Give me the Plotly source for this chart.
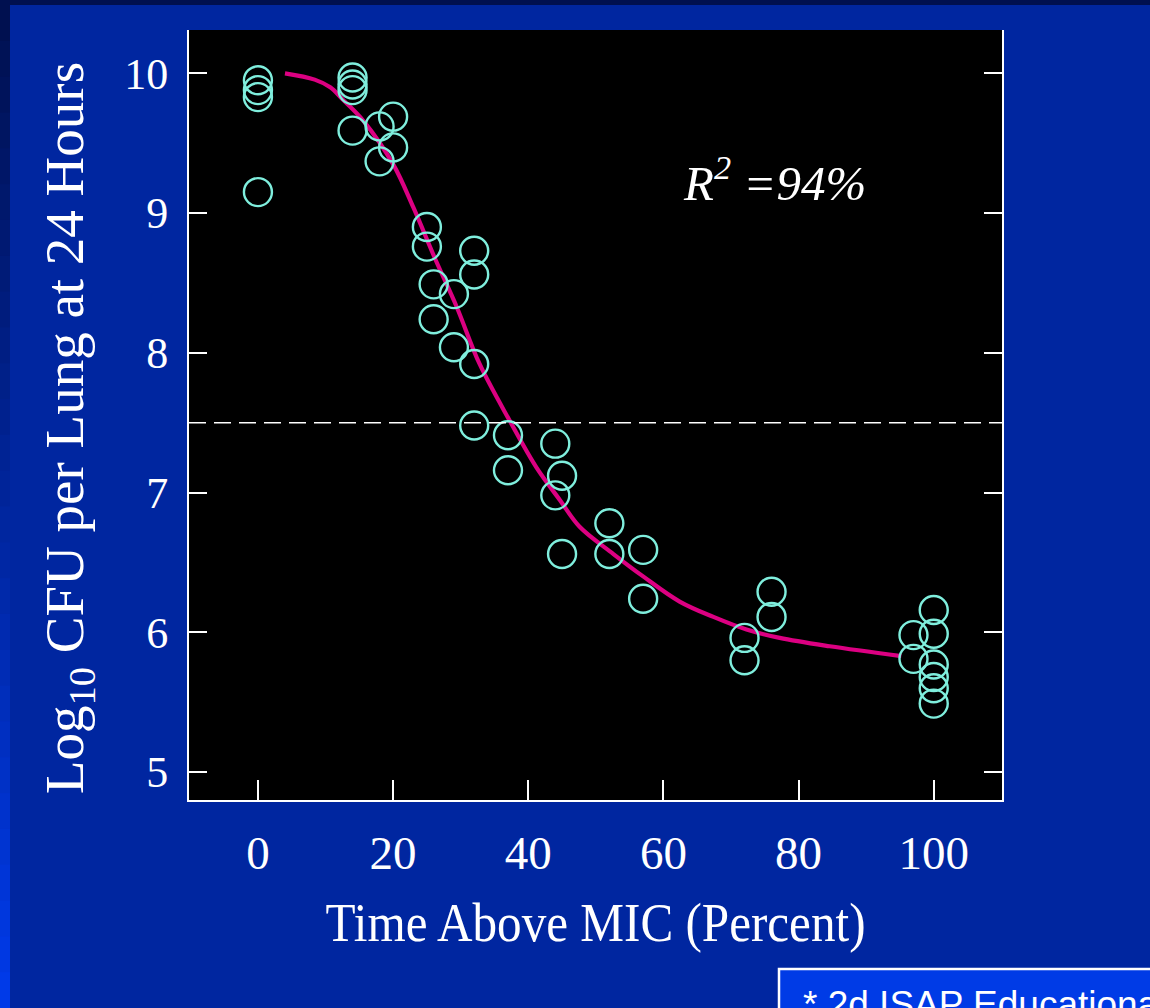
import plotly.graph_objects as go

# Observed lung burden vs. percent of dosing interval above MIC
time_above_mic = [0, 0, 0, 0,
                  14, 14, 14, 14,
                  18, 18, 20, 20,
                  25, 25, 26, 26, 29, 29, 32, 32, 32, 32,
                  37, 37, 44, 44, 45, 45,
                  52, 52, 57, 57,
                  72, 72, 76, 76,
                  97, 97, 100, 100, 100, 100, 100, 100]
log_cfu = [9.95, 9.88, 9.83, 9.15,
           9.97, 9.92, 9.88, 9.59,
           9.62, 9.37, 9.69, 9.47,
           8.90, 8.76, 8.49, 8.24, 8.42, 8.04, 8.73, 8.56, 7.92, 7.48,
           7.41, 7.16, 7.35, 6.98, 7.12, 6.56,
           6.78, 6.56, 6.59, 6.24,
           5.96, 5.80, 6.29, 6.11,
           5.98, 5.81, 6.16, 5.99, 5.77, 5.68, 5.60, 5.49]

# Fitted model curve
fit_x = [4.0, 8.4, 10.7, 12.6, 15.6, 20.0, 23.0, 26.2, 29.4, 32.8, 37.3,
         41.2, 44.7, 47.6, 52.6, 57.0, 62.4, 67.4, 72.3, 77.2, 84.6, 95.2]
fit_y = [10.00, 9.955, 9.90, 9.81, 9.66, 9.35, 9.04, 8.675, 8.33, 7.92, 7.51,
         7.18, 6.945, 6.755, 6.56, 6.40, 6.22, 6.11, 6.02, 5.96, 5.90, 5.83]

stasis_level = 7.5
x_ticks = [0, 20, 40, 60, 80, 100]
y_ticks = [5, 6, 7, 8, 9, 10]
x_title = "Time Above MIC (Percent)"
y_title = "Log<sub>10</sub> CFU per Lung at 24 Hours"
r_squared_text = "<i>R<sup>2</sup> =94%</i>"
footnote_text = "* 2d ISAP Educational Workshop"

W, H = 1150, 1008
L, R, T, B = 189, 1002, 30, 800   # plot area edges in pixels

def px_x(p):
    return (p - L) / (R - L)

def px_y(p):
    return (B - p) / (B - T)

SERIF = "Liberation Serif"
WHITE = "#FFFFFF"
BG = "#0026A0"

fig = go.Figure()

fig.add_trace(go.Scatter(
    x=fit_x, y=fit_y, mode="lines",
    line=dict(color="#DC0082", width=4.2, shape="spline", smoothing=1.0),
    hoverinfo="skip", showlegend=False,
))

fig.add_trace(go.Scatter(
    x=time_above_mic, y=log_cfu, mode="markers",
    marker=dict(symbol="circle-open", size=28, color="#7FEEDD",
                line=dict(width=2.4, color="#7FEEDD")),
    showlegend=False,
))

shapes = []
# dashed reference level
shapes.append(dict(type="line", xref="paper", yref="y", x0=0, x1=1,
                   y0=stasis_level, y1=stasis_level,
                   line=dict(color=WHITE, width=1.5, dash="17px,8px"),
                   layer="above"))

# slide frame: dark top band and left strip shading to bright blue
shapes.append(dict(type="rect", xref="paper", yref="paper",
                   x0=px_x(0), x1=px_x(W), y0=px_y(0), y1=px_y(5),
                   fillcolor="#001050", line=dict(width=0), layer="below"))
n = 28
c0 = (0x00, 0x10, 0x50)
c1 = (0x00, 0x3A, 0xE8)
for i in range(n):
    f = i / (n - 1)
    col = "rgb(%d,%d,%d)" % tuple(round(a + (b - a) * f) for a, b in zip(c0, c1))
    y_top = 5 + (H - 5) * i / n
    y_bot = 5 + (H - 5) * (i + 1) / n
    shapes.append(dict(type="rect", xref="paper", yref="paper",
                       x0=px_x(0), x1=px_x(10), y0=px_y(y_bot + 1), y1=px_y(y_top),
                       fillcolor=col, line=dict(width=0), layer="below"))

# footnote box
shapes.append(dict(type="rect", xref="paper", yref="paper",
                   x0=px_x(779), x1=px_x(1170), y0=px_y(1030), y1=px_y(969),
                   fillcolor="#003BE6", line=dict(color=WHITE, width=2.5),
                   layer="above"))

fig.update_layout(
    width=W, height=H,
    margin=dict(l=L, r=W - R, t=T, b=H - B, pad=0),
    paper_bgcolor=BG, plot_bgcolor="#000000",
    font=dict(family=SERIF, color=WHITE),
    shapes=shapes,
    showlegend=False,
    annotations=[
        dict(text=r_squared_text, xref="x", yref="y", x=76.5, y=9.24,
             showarrow=False, font=dict(family=SERIF, size=49, color=WHITE),
             xanchor="center", yanchor="middle"),
        dict(text=y_title, xref="paper", yref="paper",
             x=px_x(68), y=px_y(428), xanchor="center", yanchor="middle",
             textangle=-90, showarrow=False,
             font=dict(family=SERIF, size=55, color=WHITE)),
        dict(text=footnote_text, xref="paper", yref="paper",
             x=px_x(801), y=px_y(982), xanchor="left", yanchor="top",
             showarrow=False,
             font=dict(family="Liberation Sans", size=37, color=WHITE)),
    ],
)

fig.update_xaxes(
    range=[-10.2, 110.1], tickvals=x_ticks, ticktext=[str(v) for v in x_ticks],
    showgrid=False, zeroline=False,
    showline=True, linecolor=WHITE, linewidth=2, mirror=False,
    ticks="inside", ticklen=20, tickwidth=2, tickcolor=WHITE,
    tickfont=dict(family=SERIF, size=47, color=WHITE),
    ticklabelstandoff=11,
    title=dict(text=x_title,
               font=dict(family=SERIF, size=55, color=WHITE), standoff=24),
)

fig.update_yaxes(
    range=[4.80, 10.31], tickvals=y_ticks, ticktext=[str(v) for v in y_ticks],
    showgrid=False, zeroline=False,
    showline=True, linecolor=WHITE, linewidth=2, mirror="ticks",
    ticks="inside", ticklen=18, tickwidth=2, tickcolor=WHITE,
    tickfont=dict(family=SERIF, size=44, color=WHITE),
    ticklabelstandoff=10,
)

# The horizontal axis title is set in narrow lettering, as on the slide
squeeze_js = """
var gd = document.getElementById('{plot_id}');
function squeeze() {
  gd.querySelectorAll('.g-xtitle text').forEach(function (t) {
    if (t.getAttribute('data-sq') !== t.textContent) {
      t.removeAttribute('textLength');
      t.setAttribute('textLength', '540');
      t.setAttribute('lengthAdjust', 'spacingAndGlyphs');
      t.setAttribute('data-sq', t.textContent);
    }
  });
}
squeeze();
gd.on('plotly_afterplot', squeeze);
"""

fig.write_html("out.html", post_script=squeeze_js)
